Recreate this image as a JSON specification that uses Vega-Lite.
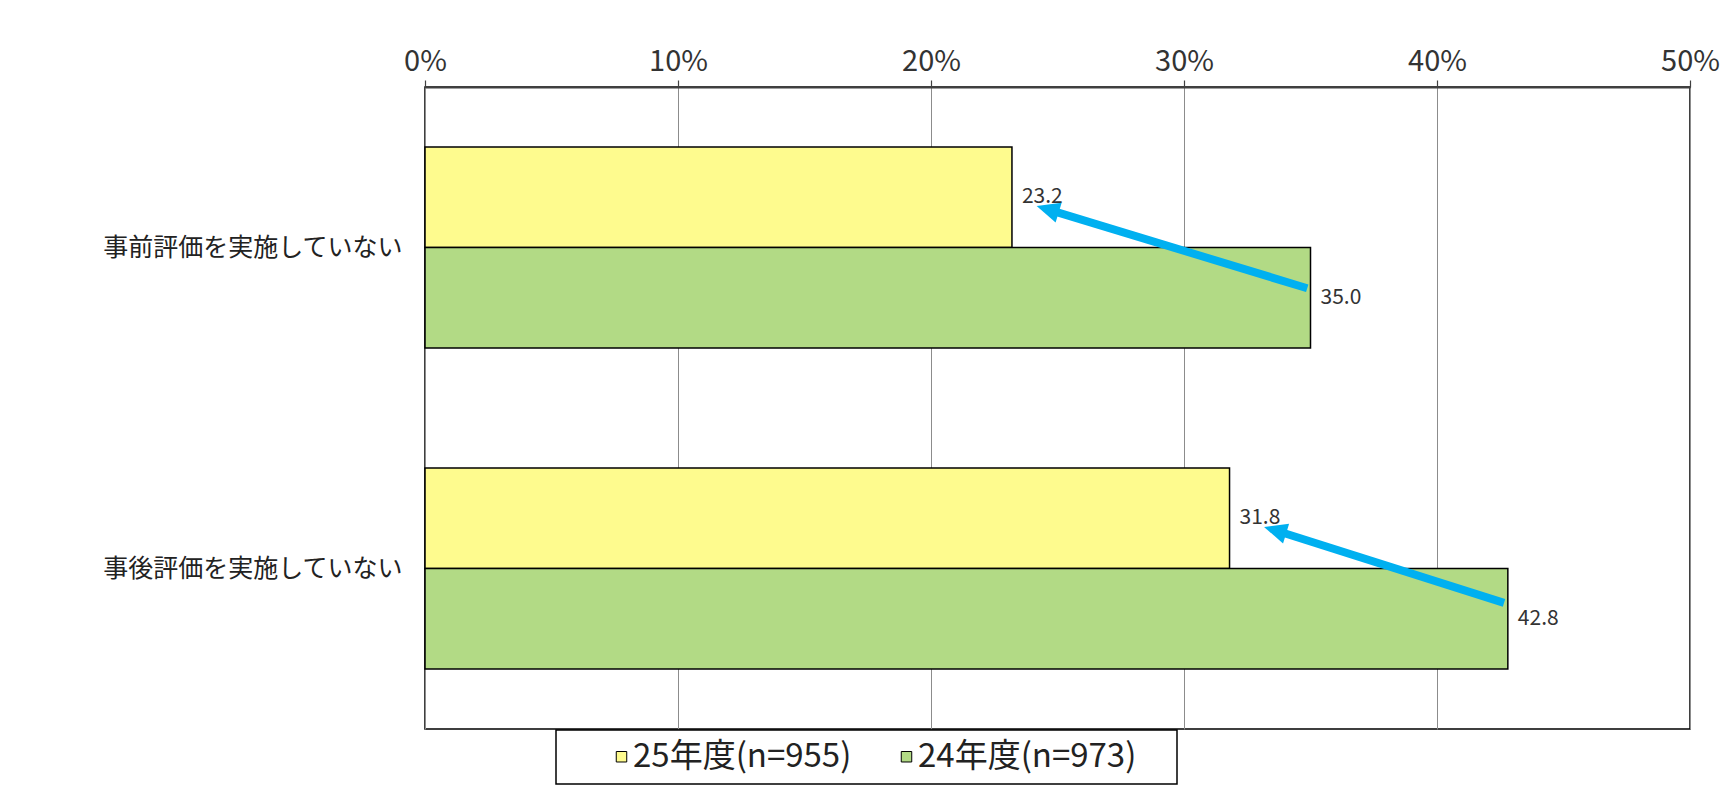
{
  "$schema": "https://vega.github.io/schema/vega-lite/v6.json",
  "width": 1265,
  "height": 642,
  "autosize": {"type": "none"},
  "padding": {"left": 425, "top": 87, "right": 44, "bottom": 71},
  "background": "white",
  "config": {
    "font": "Noto Sans CJK JP",
    "view": {"stroke": "black", "strokeWidth": 1.5},
    "legend": {
      "orient": "none",
      "legendX": 131,
      "legendY": 643,
      "direction": "horizontal",
      "strokeColor": "black",
      "strokeWidth": 1.5,
      "padding": 10,
      "titleOrient": "left",
      "titleFont": "DejaVu Sans",
      "titleFontSize": 10,
      "titlePadding": 31,
      "symbolType": "square",
      "symbolSize": 110,
      "symbolStrokeColor": "black",
      "symbolStrokeWidth": 1,
      "labelFontSize": 33,
      "labelColor": "#222222",
      "labelOffset": -5,
      "columnPadding": 38,
      "labelLimit": 500
    }
  },
  "datasets": {
    "rates": [
      {"item": "事前評価を実施していない", "series": "25年度(n=955)", "pct": 23.2},
      {"item": "事前評価を実施していない", "series": "24年度(n=973)", "pct": 35.0},
      {"item": "事後評価を実施していない", "series": "25年度(n=955)", "pct": 31.8},
      {"item": "事後評価を実施していない", "series": "24年度(n=973)", "pct": 42.8}
    ],
    "arrows": [
      {"item": "事前評価を実施していない", "x0": 34.87, "y0": 0.627, "xh": 24.61, "yh": 0.381},
      {"item": "事後評価を実施していない", "x0": 42.65, "y0": 1.607, "xh": 33.6, "yh": 1.381}
    ]
  },
  "layer": [
    {
      "data": {"name": "rates"},
      "encoding": {
        "y": {
          "field": "item",
          "type": "nominal",
          "sort": null,
          "scale": {"paddingInner": 0.374, "paddingOuter": 0.187},
          "axis": {
            "title": null,
            "orient": "left",
            "ticks": false,
            "domain": false,
            "labelFontSize": 25,
            "labelColor": "#222222",
            "labelPadding": 23,
            "labelLimit": 400
          }
        },
        "yOffset": {
          "field": "series",
          "type": "nominal",
          "sort": null,
          "scale": {"paddingInner": 0, "paddingOuter": 0}
        },
        "x": {
          "field": "pct",
          "type": "quantitative",
          "scale": {"domain": [0, 50], "nice": false},
          "axis": {
            "orient": "top",
            "title": null,
            "values": [0, 10, 20, 30, 40, 50],
            "labelExpr": "datum.value + '%'",
            "labelFontSize": 29,
            "labelColor": "#333333",
            "labelFlush": false,
            "labelPadding": 4,
            "tickSize": 7,
            "tickColor": "#404040",
            "tickWidth": 1.2,
            "domainColor": "#404040",
            "domainWidth": 2,
            "grid": true,
            "gridColor": "#8c8c8c",
            "gridWidth": 1
          }
        }
      },
      "layer": [
        {
          "mark": {"type": "bar", "stroke": "black", "strokeWidth": 1.5},
          "encoding": {
            "color": {
              "field": "series",
              "type": "nominal",
              "sort": null,
              "scale": {
                "domain": ["25年度(n=955)", "24年度(n=973)"],
                "range": ["#fefb8e", "#b2da85"]
              },
              "legend": {
                "title": "\u2800",
                "labelExpr": "datum.label == '24年度(n=973)' ? datum.label + '\u2002\u2005\u2006\u200b' : datum.label"
              }
            }
          }
        },
        {
          "mark": {"type": "text", "align": "left", "baseline": "middle", "dx": 10, "fontSize": 21, "color": "#333333"},
          "encoding": {"text": {"field": "pct", "type": "quantitative", "format": ".1f"}}
        }
      ]
    },
    {
      "data": {"name": "arrows"},
      "encoding": {
        "y": {
          "field": "y0",
          "type": "quantitative",
          "scale": {"domain": [0, 2], "reverse": true, "nice": false, "zero": false},
          "axis": null
        },
        "x": {"field": "x0", "type": "quantitative", "axis": {"title": null}}
      },
      "layer": [
        {
          "mark": {"type": "rule", "color": "#00b0f0", "strokeWidth": 8},
          "encoding": {"x2": {"field": "xh"}, "y2": {"field": "yh"}}
        },
        {
          "mark": {"type": "point", "shape": "M0,-1L-0.9,1L0.9,1Z", "filled": true, "color": "#00b0f0", "opacity": 1, "size": 529, "angle": 287},
          "encoding": {
            "x": {"field": "xh", "type": "quantitative"},
            "y": {"field": "yh", "type": "quantitative"}
          }
        }
      ]
    }
  ],
  "resolve": {"scale": {"y": "independent"}, "axis": {"y": "independent"}}
}
